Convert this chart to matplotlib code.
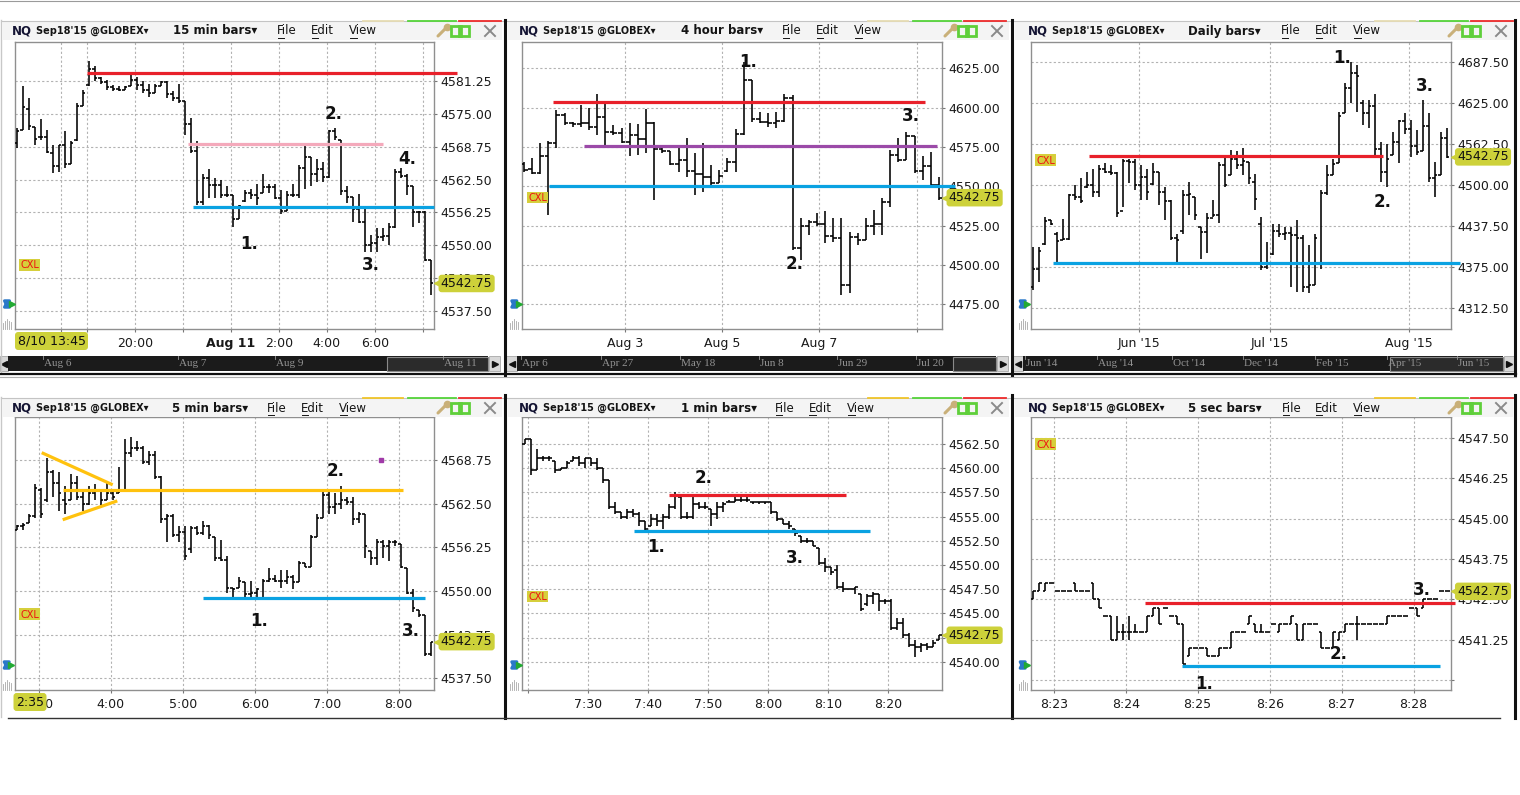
import matplotlib
matplotlib.use("Agg")
import matplotlib.pyplot as plt
from matplotlib.patches import Rectangle, FancyArrowPatch
from matplotlib.lines import Line2D
from matplotlib.transforms import blended_transform_factory

plt.rcParams['font.family'] = ['DejaVu Sans']

W, H = 1520, 795
LAST = 4542.75

# ---------------- data: bars are (open, high, low, close) ----------------
bars_15min = [
    (4569.5, 4572.25, 4568.5, 4571.75), (4572.0, 4580.25, 4572.0, 4576.25),
    (4576.0, 4578.0, 4572.0, 4572.75), (4572.5, 4572.5, 4569.0, 4570.25),
    (4570.5, 4574.0, 4570.0, 4570.5), (4570.5, 4572.0, 4567.5, 4567.75),
    (4567.5, 4569.0, 4563.75, 4565.0), (4565.0, 4569.0, 4564.0, 4569.0),
    (4569.0, 4571.75, 4564.75, 4565.5), (4565.5, 4569.75, 4565.5, 4569.5),
    (4570.0, 4577.0, 4569.75, 4576.5), (4576.5, 4579.5, 4576.5, 4579.0),
    (4580.5, 4585.0, 4580.25, 4583.5), (4583.5, 4584.0, 4581.25, 4581.75),
    (4581.75, 4582.0, 4580.75, 4581.0), (4581.0, 4581.5, 4579.5, 4580.0),
    (4580.0, 4580.5, 4579.25, 4579.75), (4579.75, 4580.25, 4579.25, 4579.5),
    (4579.5, 4580.25, 4579.5, 4580.0), (4580.25, 4582.5, 4580.25, 4581.5),
    (4581.5, 4582.0, 4579.5, 4580.5), (4580.5, 4581.25, 4579.0, 4579.5),
    (4579.5, 4580.75, 4578.25, 4579.0), (4579.0, 4580.75, 4579.0, 4580.25),
    (4580.25, 4581.25, 4580.25, 4581.0), (4581.0, 4581.25, 4578.0, 4578.75),
    (4578.75, 4579.25, 4577.5, 4578.0), (4578.0, 4580.75, 4577.0, 4577.5),
    (4577.5, 4577.5, 4571.0, 4573.0), (4573.0, 4574.25, 4567.5, 4568.0),
    (4568.0, 4569.75, 4557.75, 4558.25), (4558.25, 4563.5, 4557.75, 4562.75),
    (4562.75, 4564.5, 4559.0, 4561.5), (4561.5, 4562.75, 4559.0, 4561.5),
    (4561.5, 4562.5, 4559.0, 4559.5), (4559.5, 4561.25, 4559.25, 4559.5),
    (4559.5, 4559.5, 4553.5, 4555.0), (4555.0, 4557.75, 4555.0, 4557.5),
    (4558.5, 4560.5, 4558.25, 4560.0), (4560.0, 4560.75, 4558.75, 4559.5),
    (4559.5, 4561.75, 4557.75, 4559.0), (4560.0, 4563.5, 4560.0, 4561.0),
    (4561.0, 4561.75, 4560.0, 4561.0), (4561.0, 4561.75, 4558.75, 4559.0),
    (4559.0, 4560.5, 4556.0, 4556.5), (4556.5, 4560.25, 4556.5, 4559.5),
    (4559.5, 4561.75, 4559.25, 4559.5), (4559.5, 4565.25, 4559.0, 4564.75),
    (4564.75, 4569.0, 4560.75, 4566.75), (4566.75, 4566.75, 4561.25, 4563.5),
    (4563.5, 4566.5, 4562.0, 4564.5), (4564.5, 4565.75, 4562.0, 4563.0),
    (4563.0, 4572.0, 4562.75, 4571.75), (4571.75, 4572.25, 4570.0, 4570.5),
    (4570.0, 4570.0, 4559.5, 4560.25), (4560.25, 4561.25, 4558.0, 4559.25),
    (4559.25, 4559.25, 4554.5, 4557.0), (4557.0, 4559.75, 4554.25, 4554.5),
    (4554.5, 4557.0, 4548.75, 4550.0), (4550.0, 4552.0, 4548.75, 4550.5),
    (4550.5, 4553.25, 4548.75, 4551.5), (4551.5, 4553.25, 4550.75, 4551.75),
    (4551.75, 4554.25, 4550.0, 4553.5), (4553.5, 4564.5, 4553.25, 4564.0),
    (4564.0, 4564.75, 4562.75, 4563.25), (4563.25, 4563.5, 4559.5, 4561.25),
    (4561.25, 4561.25, 4553.5, 4556.25), (4556.25, 4556.5, 4554.25, 4556.25),
    (4556.25, 4556.5, 4547.0, 4547.25), (4547.25, 4547.25, 4540.5, 4542.75),
]
yticks_15min = [4537.50, 4543.75, 4550.00, 4556.25, 4562.50, 4568.75, 4575.00, 4581.25]
xlabels_15min = ['', '', '20:00', '', 'Aug 11', '2:00', '4:00', '6:00', '']
levels_15min = [4582.75, 4569.25, 4557.25]

bars_4hour = [
    (4564, 4565.75, 4559.25, 4560.5), (4561, 4568.25, 4557.5, 4558.5),
    (4558.5, 4577.25, 4557.5, 4569.5), (4569.5, 4578.5, 4531.75, 4577.5),
    (4577.5, 4598.5, 4574.25, 4595), (4595, 4596.5, 4589, 4590),
    (4590, 4591, 4588, 4589.5), (4589.5, 4601.75, 4588, 4590),
    (4590, 4599.5, 4585.75, 4587.5), (4587.5, 4608.5, 4582.5, 4594),
    (4594, 4602.75, 4576.25, 4584.5), (4584.5, 4589, 4582.5, 4584),
    (4584, 4587, 4577.25, 4578), (4578, 4590, 4569, 4582.5),
    (4582.5, 4589.5, 4570, 4580), (4580, 4599, 4571, 4590),
    (4590, 4591, 4541.25, 4574), (4574, 4575.25, 4571, 4572.5),
    (4572.5, 4572.5, 4563.5, 4564), (4564, 4575.25, 4559.25, 4567),
    (4567, 4581, 4556, 4559.5), (4559.5, 4571, 4544.5, 4558),
    (4558, 4577.25, 4546.5, 4556), (4556, 4563.5, 4550.75, 4552),
    (4552, 4560.5, 4552, 4556.5), (4559.5, 4567.75, 4559.25, 4565.5),
    (4565.5, 4586.25, 4559.25, 4583), (4583, 4629.25, 4582.5, 4617.5),
    (4617.5, 4617.5, 4591, 4593), (4593, 4597.5, 4590, 4591),
    (4591, 4596.5, 4588, 4590.5), (4590.5, 4597.5, 4587, 4591.5),
    (4591.5, 4608.5, 4591, 4606), (4606, 4608, 4509.5, 4510.5),
    (4510.5, 4529.75, 4503.25, 4525), (4525, 4528.5, 4519, 4527),
    (4527, 4532.75, 4524.5, 4526), (4526, 4534, 4513.75, 4518.5),
    (4518.5, 4529.75, 4514.75, 4517), (4517, 4529.75, 4481, 4487),
    (4487, 4521.25, 4482, 4518), (4518, 4520, 4512.75, 4516),
    (4516, 4529.75, 4516, 4525), (4525, 4535, 4519, 4526),
    (4526, 4542.5, 4519, 4540), (4540, 4573, 4537, 4570),
    (4570, 4580.5, 4565.75, 4567), (4567, 4584.75, 4567, 4582),
    (4582, 4582, 4558.25, 4560), (4560, 4569, 4554, 4563),
    (4563, 4572, 4548.75, 4551), (4551, 4556, 4541.25, 4542.75),
]
yticks_4hour = [4475.0, 4500.0, 4525.0, 4550.0, 4575.0, 4600.0, 4625.0]
xlabels_4hour = ['Aug 3', 'Aug 5', 'Aug 7', '']
levels_4hour = [4603.5, 4575.5, 4550.0]

bars_daily = [
    (4345, 4406, 4340, 4372), (4372, 4406, 4353, 4400), (4410, 4452, 4409, 4445),
    (4446, 4447, 4439, 4440), (4425, 4429, 4378, 4415), (4416, 4449, 4416, 4418),
    (4418, 4487, 4416, 4485), (4485, 4500, 4477, 4482), (4482, 4510, 4472, 4475),
    (4497, 4520, 4495, 4500), (4500, 4525, 4482, 4490), (4490, 4530, 4482, 4525),
    (4525, 4533, 4518, 4520), (4520, 4530, 4515, 4518), (4518, 4520, 4452, 4458),
    (4460, 4540, 4467, 4537), (4537, 4540, 4503, 4535), (4535, 4540, 4493, 4500),
    (4500, 4530, 4477, 4512), (4512, 4525, 4477, 4490), (4502, 4533, 4500, 4520),
    (4520, 4520, 4470, 4490), (4490, 4497, 4447, 4475), (4475, 4477, 4416, 4420),
    (4420, 4426, 4383, 4417), (4430, 4492, 4426, 4485), (4485, 4505, 4454, 4487),
    (4482, 4482, 4447, 4455), (4436, 4436, 4388, 4428), (4428, 4457, 4396, 4450),
    (4450, 4477, 4452, 4455), (4455, 4535, 4442, 4530), (4530, 4543, 4497, 4500),
    (4515, 4553, 4515, 4540), (4540, 4551, 4525, 4530), (4530, 4556, 4515, 4537),
    (4535, 4535, 4502, 4510), (4505, 4517, 4462, 4478), (4441, 4452, 4371, 4376),
    (4376, 4414, 4373, 4382), (4395, 4441, 4393, 4430), (4430, 4441, 4421, 4425),
    (4425, 4436, 4416, 4427), (4427, 4436, 4345, 4424), (4424, 4447, 4338, 4420),
    (4420, 4424, 4338, 4345), (4345, 4409, 4335, 4348), (4348, 4426, 4348, 4420),
    (4380, 4492, 4373, 4488), (4488, 4530, 4485, 4515), (4515, 4540, 4515, 4532),
    (4533, 4611, 4533, 4605), (4609, 4655, 4609, 4648), (4648, 4687.5, 4624, 4670),
    (4670, 4682, 4611, 4665), (4625, 4629, 4591, 4610), (4610, 4629, 4586, 4620),
    (4620, 4639, 4546, 4555), (4555, 4566, 4505, 4520), (4520, 4563, 4497, 4540),
    (4545, 4581, 4545, 4565), (4565, 4599, 4533, 4597), (4597, 4609, 4578, 4585),
    (4585, 4599, 4543, 4560), (4560, 4584, 4546, 4550), (4551, 4629, 4551, 4590),
    (4590, 4609, 4505, 4510), (4510, 4535, 4482, 4515), (4515, 4581, 4515, 4572),
    (4572, 4586, 4541, 4542.75),
]
yticks_daily = [4312.5, 4375.0, 4437.5, 4500.0, 4562.5, 4625.0, 4687.5]
xlabels_daily = ["Jun '15", "Jul '15", "Aug '15"]
levels_daily = [4543.75, 4381.0]

bars_5min = [
    (4558.75, 4559.5, 4558.75, 4559.25), (4559.25, 4559.75, 4558.75, 4559.5),
    (4559.75, 4561.0, 4559.75, 4560.75), (4560.75, 4565.25, 4560.5, 4564.75),
    (4564.5, 4564.75, 4560.5, 4561.0), (4563.0, 4569.0, 4562.75, 4567.0),
    (4567.0, 4567.25, 4563.5, 4565.5), (4565.5, 4567.0, 4561.5, 4564.0),
    (4563.0, 4565.0, 4561.0, 4562.5), (4563.0, 4566.75, 4563.0, 4565.5),
    (4565.5, 4566.5, 4563.0, 4563.5), (4563.5, 4564.5, 4561.5, 4562.5),
    (4562.5, 4565.0, 4562.25, 4564.0), (4564.0, 4565.25, 4563.0, 4564.5),
    (4564.5, 4564.5, 4562.25, 4563.0), (4563.0, 4565.5, 4563.0, 4564.0),
    (4564.0, 4564.5, 4563.0, 4563.5), (4564.0, 4567.75, 4564.0, 4564.5),
    (4564.5, 4571.75, 4564.5, 4569.75), (4569.75, 4572.0, 4569.25, 4570.5),
    (4570.5, 4571.5, 4570.0, 4570.5), (4570.5, 4570.75, 4568.25, 4568.5),
    (4568.5, 4570.0, 4568.0, 4569.5), (4569.5, 4570.0, 4566.0, 4566.25),
    (4566.25, 4566.5, 4559.75, 4560.25), (4560.25, 4561.0, 4557.0, 4560.75),
    (4560.75, 4561.0, 4557.75, 4558.0), (4558.0, 4559.25, 4557.0, 4558.5),
    (4558.5, 4559.25, 4554.5, 4555.0), (4556.0, 4559.25, 4555.5, 4559.0),
    (4559.0, 4559.25, 4558.0, 4558.25), (4558.25, 4560.0, 4558.0, 4559.25),
    (4559.25, 4559.5, 4557.5, 4558.0), (4557.75, 4557.75, 4554.25, 4554.75),
    (4554.75, 4557.25, 4554.25, 4554.5), (4554.5, 4555.0, 4549.75, 4550.5),
    (4550.5, 4550.5, 4548.75, 4550.25), (4550.5, 4552.0, 4550.5, 4551.5),
    (4551.25, 4551.25, 4548.75, 4549.5), (4549.5, 4551.5, 4548.75, 4549.75),
    (4549.75, 4550.5, 4548.75, 4550.25), (4549.0, 4551.75, 4548.75, 4551.5),
    (4551.5, 4553.25, 4551.25, 4551.75), (4551.75, 4552.25, 4551.25, 4551.5),
    (4551.5, 4553.0, 4550.5, 4551.5), (4551.5, 4553.0, 4551.0, 4552.0),
    (4552.0, 4552.25, 4550.25, 4551.25), (4551.25, 4554.25, 4551.25, 4554.0),
    (4554.0, 4554.0, 4553.5, 4553.5), (4553.5, 4558.0, 4553.5, 4557.75),
    (4557.75, 4561.0, 4557.75, 4560.5), (4560.5, 4564.25, 4560.5, 4563.75),
    (4563.75, 4564.25, 4561.0, 4562.0), (4562.0, 4564.0, 4561.0, 4562.5),
    (4562.5, 4565.0, 4561.75, 4563.0), (4563.0, 4563.5, 4562.25, 4562.75),
    (4562.75, 4563.5, 4559.5, 4560.25), (4560.25, 4561.25, 4559.75, 4561.0),
    (4561.0, 4561.0, 4554.75, 4556.5), (4555.75, 4555.75, 4553.75, 4554.75),
    (4554.75, 4557.5, 4553.75, 4557.0), (4557.0, 4557.25, 4554.75, 4556.5),
    (4556.5, 4557.25, 4554.25, 4557.0), (4557.0, 4557.25, 4556.5, 4557.0),
    (4556.75, 4556.75, 4553.25, 4553.5), (4553.25, 4553.25, 4549.5, 4549.75),
    (4549.75, 4550.25, 4547.0, 4547.5), (4547.25, 4547.25, 4546.25, 4546.5),
    (4546.5, 4546.5, 4540.75, 4541.0), (4541.0, 4542.75, 4540.75, 4542.75),
]
yticks_5min = [4537.50, 4543.75, 4550.00, 4556.25, 4562.50, 4568.75]
xlabels_5min = ['3:00', '4:00', '5:00', '6:00', '7:00', '8:00']
levels_5min = [4564.5, 4549.0]

bars_1min = [
    (4562.5, 4563.0, 4562.5, 4563.0), (4563.0, 4563.0, 4559.25, 4559.75),
    (4559.75, 4562.0, 4559.75, 4561.0), (4561.0, 4561.25, 4560.75, 4561.0),
    (4561.0, 4561.25, 4560.75, 4561.0), (4560.75, 4560.75, 4559.5, 4559.75),
    (4559.75, 4560.0, 4559.75, 4560.0), (4560.0, 4560.75, 4560.0, 4560.5),
    (4560.75, 4561.25, 4560.75, 4561.0), (4561.0, 4561.25, 4560.25, 4560.5),
    (4560.5, 4561.0, 4560.0, 4561.0), (4561.0, 4561.0, 4560.25, 4560.5),
    (4560.5, 4561.0, 4559.75, 4560.0), (4560.0, 4560.0, 4558.5, 4558.75),
    (4558.75, 4558.75, 4555.75, 4556.0), (4556.0, 4556.5, 4555.25, 4555.5),
    (4555.5, 4555.5, 4554.75, 4555.0), (4555.0, 4555.75, 4554.75, 4555.5),
    (4555.5, 4555.75, 4555.0, 4555.25), (4555.25, 4555.5, 4554.0, 4554.5),
    (4554.5, 4554.5, 4553.5, 4553.75), (4554.0, 4555.25, 4554.0, 4554.75),
    (4554.75, 4555.25, 4554.0, 4554.5), (4554.5, 4555.25, 4553.75, 4555.0),
    (4555.0, 4556.25, 4554.75, 4556.0), (4556.0, 4557.5, 4555.75, 4557.25),
    (4557.0, 4557.0, 4554.75, 4555.0), (4555.0, 4555.5, 4554.75, 4555.0),
    (4555.0, 4557.0, 4554.75, 4556.25), (4556.25, 4556.5, 4555.75, 4556.0),
    (4556.0, 4556.5, 4555.75, 4556.0), (4555.75, 4555.75, 4554.0, 4555.25),
    (4555.25, 4556.5, 4554.75, 4556.0), (4556.0, 4556.5, 4555.5, 4556.25),
    (4556.5, 4556.75, 4556.5, 4556.5), (4556.5, 4557.0, 4556.5, 4556.75),
    (4556.75, 4557.0, 4556.5, 4556.75), (4556.75, 4557.0, 4556.5, 4556.75),
    (4556.5, 4556.5, 4556.25, 4556.5), (4556.5, 4556.5, 4556.25, 4556.5),
    (4556.5, 4556.5, 4556.25, 4556.5), (4556.5, 4556.5, 4555.25, 4555.5),
    (4555.5, 4555.5, 4554.5, 4554.75), (4554.75, 4554.75, 4554.25, 4554.25),
    (4554.25, 4554.5, 4553.75, 4554.0), (4553.75, 4553.75, 4553.0, 4553.25),
    (4553.0, 4553.0, 4552.25, 4552.5), (4552.5, 4552.75, 4552.25, 4552.5),
    (4552.5, 4552.5, 4552.0, 4552.0), (4551.75, 4551.75, 4550.0, 4550.25),
    (4550.25, 4550.75, 4549.25, 4549.75), (4549.75, 4549.75, 4549.0, 4549.25),
    (4549.5, 4550.0, 4547.5, 4547.75), (4547.75, 4548.25, 4547.25, 4547.5),
    (4547.5, 4547.5, 4547.5, 4547.5), (4547.5, 4547.75, 4547.0, 4547.75),
    (4547.0, 4547.0, 4545.25, 4545.5), (4546.0, 4547.0, 4545.75, 4546.75),
    (4546.75, 4547.25, 4546.0, 4547.0), (4547.0, 4547.0, 4545.25, 4546.25),
    (4546.25, 4546.5, 4546.0, 4546.25), (4546.25, 4546.5, 4543.25, 4543.5),
    (4543.5, 4544.5, 4543.25, 4544.0), (4544.0, 4544.5, 4542.5, 4542.75),
    (4542.75, 4543.0, 4541.5, 4541.75), (4541.75, 4542.25, 4540.5, 4541.5),
    (4541.5, 4542.0, 4541.0, 4541.75), (4541.75, 4542.0, 4541.25, 4541.5),
    (4541.5, 4542.25, 4541.5, 4542.0), (4542.25, 4542.75, 4542.25, 4542.75),
]
yticks_1min = [4540.0, 4542.5, 4545.0, 4547.5, 4550.0, 4552.5, 4555.0, 4557.5, 4560.0, 4562.5]
xlabels_1min = ['', '7:30', '7:40', '7:50', '8:00', '8:10', '8:20']
levels_1min = [4557.25, 4553.5]

bars_5sec = [
    (4542.5, 4542.75, 4542.5, 4542.75), (4542.75, 4543.0, 4542.75, 4543.0),
    (4542.75, 4543.0, 4542.75, 4543.0), (4543.0, 4543.0, 4543.0, 4543.0),
    (4542.75, 4542.75, 4542.75, 4542.75), (4542.75, 4542.75, 4542.75, 4542.75),
    (4542.75, 4542.75, 4542.75, 4542.75), (4543.0, 4543.0, 4542.75, 4542.75),
    (4542.75, 4542.75, 4542.75, 4542.75), (4542.75, 4542.75, 4542.75, 4542.75),
    (4543.0, 4543.0, 4542.5, 4542.5), (4542.5, 4542.5, 4542.25, 4542.25),
    (4542.0, 4542.0, 4542.0, 4542.0), (4542.0, 4542.0, 4541.25, 4541.25),
    (4541.25, 4542.0, 4541.25, 4541.5), (4541.5, 4541.75, 4541.25, 4541.5),
    (4541.5, 4542.0, 4541.25, 4541.5), (4541.5, 4541.75, 4541.5, 4541.5),
    (4541.5, 4541.5, 4541.5, 4541.5), (4541.5, 4542.0, 4541.5, 4542.0),
    (4542.0, 4542.25, 4542.0, 4542.25), (4542.25, 4542.25, 4541.75, 4541.75),
    (4542.25, 4542.25, 4542.25, 4542.25), (4542.0, 4542.0, 4542.0, 4542.0),
    (4542.0, 4542.0, 4541.75, 4541.75), (4541.75, 4541.75, 4540.5, 4540.5),
    (4540.75, 4541.0, 4540.75, 4541.0), (4541.0, 4541.0, 4541.0, 4541.0),
    (4541.0, 4541.0, 4541.0, 4541.0), (4541.0, 4541.0, 4540.75, 4540.75),
    (4540.75, 4540.75, 4540.75, 4540.75), (4540.75, 4541.0, 4540.75, 4541.0),
    (4541.0, 4541.0, 4541.0, 4541.0), (4541.0, 4541.5, 4541.0, 4541.5),
    (4541.5, 4541.5, 4541.5, 4541.5), (4541.5, 4541.5, 4541.5, 4541.5),
    (4541.75, 4542.0, 4541.75, 4542.0), (4541.75, 4541.75, 4541.5, 4541.5),
    (4541.5, 4541.75, 4541.5, 4541.5), (4541.5, 4541.5, 4541.5, 4541.5),
    (4541.75, 4541.75, 4541.75, 4541.75), (4541.5, 4541.75, 4541.5, 4541.75),
    (4541.75, 4541.75, 4541.75, 4541.75), (4541.75, 4542.0, 4541.75, 4542.0),
    (4541.75, 4541.75, 4541.25, 4541.25), (4541.25, 4541.75, 4541.25, 4541.75),
    (4541.75, 4541.75, 4541.75, 4541.75), (4541.75, 4541.75, 4541.75, 4541.75),
    (4541.5, 4541.5, 4541.0, 4541.0), (4541.0, 4541.0, 4541.0, 4541.0),
    (4541.0, 4541.5, 4541.0, 4541.5), (4541.25, 4541.5, 4541.25, 4541.5),
    (4541.5, 4541.75, 4541.5, 4541.75), (4541.75, 4541.75, 4541.75, 4541.75),
    (4541.75, 4542.0, 4541.25, 4541.75), (4541.75, 4541.75, 4541.75, 4541.75),
    (4541.75, 4541.75, 4541.75, 4541.75), (4541.75, 4541.75, 4541.75, 4541.75),
    (4541.75, 4541.75, 4541.75, 4541.75), (4541.75, 4542.0, 4541.75, 4542.0),
    (4542.0, 4542.0, 4542.0, 4542.0), (4542.0, 4542.0, 4542.0, 4542.0),
    (4542.0, 4542.0, 4542.0, 4542.0), (4542.25, 4542.25, 4542.25, 4542.25),
    (4542.25, 4542.25, 4542.0, 4542.0), (4542.25, 4542.5, 4542.25, 4542.5),
    (4542.5, 4542.5, 4542.5, 4542.5), (4542.5, 4542.5, 4542.5, 4542.5),
    (4542.75, 4542.75, 4542.75, 4542.75), (4542.75, 4542.75, 4542.75, 4542.75),
]
yticks_5sec = [4540.00, 4541.25, 4542.50, 4543.75, 4545.00, 4546.25, 4547.50]
xlabels_5sec = ['8:23', '8:24', '8:25', '8:26', '8:27', '8:28']
levels_5sec = [4542.375, 4540.44]

# ---------------- colours ----------------
RED = '#e8202a'
PINK = '#f4a9bb'
BLUE = '#0aa2e2'
PURPLE = '#9b4aa8'
YELLOW = '#ffc20e'
TAG = '#cdd13a'
CXL_BG = '#d6cf3c'

# ---------------- layout (pixel coordinates, origin top-left) ----------------
panels = [
    dict(box=(15, 41.7, 434.3, 329), bars=bars_15min, xlim=(-0.3, 69.6), ylim=(4534.1, 4588.7),
         yticks=yticks_15min, ylabels=None,
         xgrid=[7.43, 11.67, 19.67, 27.67, 35.67, 43.67, 51.67, 59.67, 67.67], xlabels=xlabels_15min,
         lines=[(levels_15min[0], 11.7, 73.4, RED), (levels_15min[1], 28.6, 61.0, PINK),
                (levels_15min[2], 29.3, 69.6, BLUE)],
         notes=[('1.', 38.7, 4550.2), ('2.', 52.8, 4575.0), ('3.', 59.0, 4546.3), ('4.', 65.1, 4566.5)],
         win=0, top=20, interval='15 min bars', t_iv=173, t_file=277, t_edit=311, t_view=349,
         cxl=(19, 259, 40, 271)),
    dict(box=(522.3, 41.7, 942.3, 329), bars=bars_4hour, xlim=(-0.2, 51.4), ylim=(4459.3, 4641.9),
         yticks=yticks_4hour, ylabels=None,
         xgrid=[12.46, 24.38, 36.3, 48.3], xlabels=xlabels_4hour,
         lines=[(levels_4hour[0], 3.6, 49.3, RED), (levels_4hour[1], 7.4, 50.7, PURPLE),
                (levels_4hour[2], 3.1, 52.9, BLUE)],
         notes=[('1.', 27.5, 4629.2), ('2.', 33.3, 4500.4), ('3.', 47.5, 4594.7)],
         win=1, top=20, interval='4 hour bars', t_iv=681, t_file=782, t_edit=816, t_view=854,
         cxl=(527, 192, 548, 203)),
    dict(box=(1030.7, 41.7, 1450.7, 329), bars=bars_daily, xlim=(-0.33, 69.67), ylim=(4281.0, 4717.9),
         yticks=yticks_daily, ylabels=None,
         xgrid=[17.67, 39.6, 62.67], xlabels=xlabels_daily,
         lines=[(levels_daily[0], 9.4, 58.4, RED), (levels_daily[1], 3.4, 71.3, BLUE)],
         notes=[('1.', 51.5, 4692.6), ('2.', 58.3, 4474.6), ('3.', 65.4, 4651.0)],
         win=2, top=20, interval='Daily bars', t_iv=1188, t_file=1281, t_edit=1315, t_view=1353,
         cxl=(1035, 154, 1056, 166)),
    dict(box=(14.7, 416.7, 434.3, 690), bars=bars_5min, xlim=(-0.33, 69.6), ylim=(4535.83, 4574.95),
         yticks=yticks_5min, ylabels=None,
         xgrid=[3.67, 15.67, 27.67, 39.67, 51.67, 63.67], xlabels=xlabels_5min,
         lines=[(levels_5min[0], 7.77, 64.4, YELLOW), (levels_5min[1], 31.0, 68.05, BLUE)],
         notes=[('1.', 40.4, 4545.75), ('2.', 53.2, 4567.2), ('3.', 65.7, 4544.3)],
         win=0, top=397, interval='5 min bars', t_iv=172, t_file=267, t_edit=301, t_view=339,
         cxl=(19, 608, 40, 620)),
    dict(box=(522.3, 416.7, 942.3, 690), bars=bars_1min, xlim=(-0.45, 69.55), ylim=(4537.1, 4565.3),
         yticks=yticks_1min, ylabels=None,
         xgrid=[0.55, 10.55, 20.55, 30.55, 40.55, 50.55, 60.55], xlabels=xlabels_1min,
         lines=[(levels_1min[0], 24.0, 53.45, RED), (levels_1min[1], 18.2, 57.5, BLUE)],
         notes=[('1.', 21.8, 4551.9), ('2.', 29.7, 4558.95), ('3.', 45.0, 4550.7)],
         win=1, top=397, interval='1 min bars', t_iv=681, t_file=775, t_edit=809, t_view=847,
         cxl=(527, 591, 548, 602)),
    dict(box=(1030.7, 416.7, 1450.7, 690), bars=bars_5sec, xlim=(-0.44, 69.56), ylim=(4539.7, 4548.15),
         yticks=yticks_5sec, ylabels=[''] + ['%.2f' % v for v in yticks_5sec[1:]],
         xgrid=[3.39, 15.39, 27.39, 39.39, 51.39, 63.39], xlabels=xlabels_5sec,
         lines=[(levels_5sec[0], 18.6, 70.3, RED), (levels_5sec[1], 24.8, 67.8, BLUE)],
         notes=[('1.', 28.5, 4539.9), ('2.', 50.8, 4540.8), ('3.', 64.7, 4542.8)],
         win=2, top=397, interval='5 sec bars', t_iv=1188, t_file=1282, t_edit=1315, t_view=1353,
         cxl=(1035, 438, 1056, 450)),
]

windows = [(1, 503), (506, 1010), (1013, 1514)]

fig = plt.figure(figsize=(W / 100, H / 100), dpi=100)
fig.patch.set_facecolor('white')


def fx(x):
    return x / W


def fy(y):
    return 1 - y / H


def rect(x0, y0, x1, y1, **kw):
    fig.add_artist(Rectangle((fx(x0), fy(y1)), (x1 - x0) / W, (y1 - y0) / H,
                             transform=fig.transFigure, **kw))


def line(xs, ys, **kw):
    fig.add_artist(Line2D([fx(x) for x in xs], [fy(y) for y in ys],
                          transform=fig.transFigure, **kw))


def text(x, y, s, **kw):
    fig.text(fx(x), fy(y), s, **kw)


def title_bar(p):
    wx0, wx1 = windows[p['win']]
    top = p['top']
    rect(wx0 + 2, top + 1, wx1 - 1, top + 20, fc='#f4f4f4', ec='none')
    line([wx0, wx1], [top + 0.5, top + 0.5], color='#c4c4c4', lw=0.8)
    # coloured status strips at top right
    strip1 = '#e6dcb4' if top < 100 else '#f0c52a'
    line([wx0 + 362, wx0 + 402], [top + 0.7, top + 0.7], color=strip1, lw=1.3)
    line([wx0 + 407, wx0 + 455], [top + 0.7, top + 0.7], color='#55d43a', lw=1.3)
    line([wx0 + 458, wx0 + 500], [top + 0.7, top + 0.7], color='#ee2b2b', lw=1.3)
    ty = top + 11
    nx = p['box'][0] - 3
    text(nx, ty, 'NQ', fontsize=8.5, fontweight='bold', color='#141433', va='center')
    text(nx + 24, ty, "Sep18'15 @GLOBEX\u25be", fontsize=7, fontweight='bold', color='#141414', va='center')
    text(p['t_iv'], ty, p['interval'] + '\u25be', fontsize=8.5, fontweight='bold', color='#141414', va='center')
    for key, word, w in [('t_file', 'File', 6.5), ('t_edit', 'Edit', 7), ('t_view', 'View', 8)]:
        x = p[key]
        text(x, ty, word, fontsize=8.5, color='#141414', va='center')
        line([x + 0.5, x + w], [ty + 6.5, ty + 6.5], color='#141414', lw=0.7)
    # wrench, link and close icons
    ix = wx1 - 66
    line([ix + 1, ix + 10], [ty + 5, ty - 4], color='#c9b079', lw=2.2, solid_capstyle='round')
    fig.add_artist(Line2D([fx(ix + 10)], [fy(ty - 4)], marker='o', ms=4.5, mfc='#c9b079', mec='#c9b079',
                          transform=fig.transFigure))
    for dx in (19, 27):
        fig.add_artist(Line2D([fx(ix + dx)], [fy(ty)], marker='s', ms=7, mfc='none', mec='#5fcf3a', mew=2.0,
                              transform=fig.transFigure))
    cx = wx1 - 13
    line([cx - 5, cx + 5], [ty - 5, ty + 5], color='#8a8a8a', lw=1.4)
    line([cx - 5, cx + 5], [ty + 5, ty - 5], color='#8a8a8a', lw=1.4)


def left_icons(p):
    x0, y0, x1, y1 = p['box']
    ix = x0 - 8
    ay = y1 - 25
    fig.add_artist(FancyArrowPatch((fx(ix), fy(ay - 8)), (fx(ix), fy(ay + 8)), arrowstyle='<|-|>',
                                   mutation_scale=9, color='#2a78c8', lw=2.2, transform=fig.transFigure))
    fig.add_artist(Line2D([fx(ix + 4.5)], [fy(ay)], marker='>', ms=4, color='#22aa33',
                          transform=fig.transFigure))
    for k, hgt in enumerate([6, 8, 10, 8, 7]):
        line([ix - 4 + 2 * k, ix - 4 + 2 * k], [y1 - hgt, y1], color='#a8a8a8', lw=0.6)


def draw_panel(p):
    x0, y0, x1, y1 = p['box']
    ax = fig.add_axes([fx(x0), fy(y1), (x1 - x0) / W, (y1 - y0) / H])
    ax.set_facecolor('white')
    o, h, l, c = zip(*p['bars'])
    idx = list(range(len(p['bars'])))
    ax.vlines(idx, l, h, colors='black', lw=1.15, zorder=3)
    ax.hlines(o, [i - 0.45 for i in idx], idx, colors='black', lw=1.15, zorder=3)
    ax.hlines(c, idx, [i + 0.45 for i in idx], colors='black', lw=1.15, zorder=3)

    ax.set_xlim(*p['xlim'])
    ax.set_ylim(*p['ylim'])
    ax.set_xticks(p['xgrid'])
    ax.set_xticklabels(p['xlabels'], fontsize=9, color='#1a1a1a')
    for lab in ax.get_xticklabels():
        if lab.get_text() == 'Aug 11':
            lab.set_fontweight('bold')
    ax.yaxis.tick_right()
    ax.set_yticks(p['yticks'])
    ylabels = p['ylabels'] or ['%.2f' % v for v in p['yticks']]
    ax.set_yticklabels(ylabels, fontsize=9, color='#1a1a1a')
    ax.tick_params(axis='y', length=2.5, pad=2, color='#777777')
    ax.tick_params(axis='x', length=2.5, pad=3, color='#777777')
    ax.grid(True, color='#b2b2b2', ls=(0, (2, 2)), lw=0.8)
    ax.set_axisbelow(True)
    for s in ax.spines.values():
        s.set_color('#8f8f8f')
        s.set_linewidth(1.0)

    for price, xa, xb, col in p['lines']:
        ax.plot([xa, xb], [price, price], color=col, lw=2.3, clip_on=False,
                solid_capstyle='butt', zorder=4)
    for s, xn, yn in p['notes']:
        ax.text(xn, yn, s, fontsize=12, fontweight='bold', color='#111111',
                ha='center', va='center', zorder=6)

    # last price tag on the price scale
    tr = blended_transform_factory(ax.transAxes, ax.transData)
    wpx = x1 - x0
    ax.plot([1 + 4 / wpx], [LAST], marker='<', ms=6, color=TAG, mec=TAG, transform=tr,
            clip_on=False, zorder=9)
    ax.text(1 + 6.5 / wpx, LAST, '%.2f' % LAST, transform=tr, fontsize=9, color='#111111',
            va='center', ha='left', zorder=10, clip_on=False,
            bbox=dict(boxstyle='round,pad=0.18,rounding_size=0.25', fc=TAG, ec='none'))

    cx0, cy0, cx1, cy1 = p['cxl']
    rect(cx0, cy0, cx1, cy1, fc=CXL_BG, ec='none')
    text((cx0 + cx1) / 2, (cy0 + cy1) / 2 + 0.5, 'CXL', fontsize=7, color='#ee1111', ha='center', va='center')
    return ax


for p in panels:
    title_bar(p)
    draw_panel(p)
    left_icons(p)

# date boxes at the left of the time scale
text(51.5, 341, '8/10 13:45', fontsize=9, color='#111111', ha='center', va='center',
     bbox=dict(boxstyle='round,pad=0.2,rounding_size=0.25', fc=TAG, ec='none'))
text(30, 702, '2:35', fontsize=9, color='#111111', ha='center', va='center',
     bbox=dict(boxstyle='round,pad=0.2,rounding_size=0.25', fc=TAG, ec='none'))

# purple marker and triangle lines on the 5 min chart
ax5 = fig.axes[3]
ax5.plot([4.17, 16.0], [4569.8, 4565.2], color=YELLOW, lw=2.3, zorder=4, solid_capstyle='butt')
ax5.plot([7.67, 16.77], [4560.2, 4562.9], color=YELLOW, lw=2.3, zorder=4, solid_capstyle='butt')
ax5.plot([60.7], [4568.75], marker='s', ms=3, color='#a03aa8', zorder=5)

# scroll strips under the top charts
strips = [
    (0, 8, 387, 488, 500, [('Aug 6', 43), ('Aug 7', 178), ('Aug 9', 275), ('Aug 11', 443)]),
    (506, 517, 953, 996, 1008, [('Apr 6', 521), ('Apr 27', 601), ('May 18', 680), ('Jun 8', 759),
                                ('Jun 29', 837), ('Jul 20', 916)]),
    (1013, 1023, 1390, 1503, 1514, [("Jun '14", 1025), ("Aug '14", 1097), ("Oct '14", 1172),
                                    ("Dec '14", 1243), ("Feb '15", 1315), ("Apr '15", 1387),
                                    ("Jun '15", 1457)]),
]
for bx0, sx0, th0, th1, bx1, labs in strips:
    rect(bx0, 356, sx0, 371, fc='#d8d8d8', ec='#9a9a9a', lw=0.5)
    rect(th1 + 1, 356, bx1, 371, fc='#d8d8d8', ec='#9a9a9a', lw=0.5)
    rect(sx0, 356, th1, 371, fc='#1b1b1b', ec='none')
    rect(th0, 356.5, th1, 370.5, fc='#2b2b2b', ec='#8a8a8a', lw=0.8)
    fig.add_artist(Line2D([fx((bx0 + sx0) / 2)], [fy(363.5)], marker='<', ms=4, color='#111111',
                          transform=fig.transFigure))
    fig.add_artist(Line2D([fx((th1 + 1 + bx1) / 2)], [fy(363.5)], marker='>', ms=4, color='#111111',
                          transform=fig.transFigure))
    for s, tx in labs:
        line([tx, tx], [356, 359], color='#9a9a9a', lw=0.6)
        text(tx + 1, 364, s, fontsize=8, family=['Liberation Serif', 'DejaVu Serif'],
             color='#929292', ha='left', va='center')

# window frame lines
line([0, W], [0.5, 0.5], color='#9a9a9a', lw=0.8)
line([1, 1], [20, 373], color='#c8c8c8', lw=1.0)
line([1, 1], [397, 717], color='#c8c8c8', lw=1.0)
for xs in (504.5, 1011.5, 1515):
    line([xs, xs], [20, 375], color='#111111', lw=2.2)
    line([xs, xs], [395, 718], color='#111111', lw=2.2)
line([0, 1516], [374, 374], color='#111111', lw=1.6)
line([0, 1516], [376.5, 376.5], color='#b0b0b0', lw=0.8)
line([8, 1500], [717.5, 717.5], color='#333333', lw=1.0)

fig.savefig('out.png', dpi=100, facecolor='white')
